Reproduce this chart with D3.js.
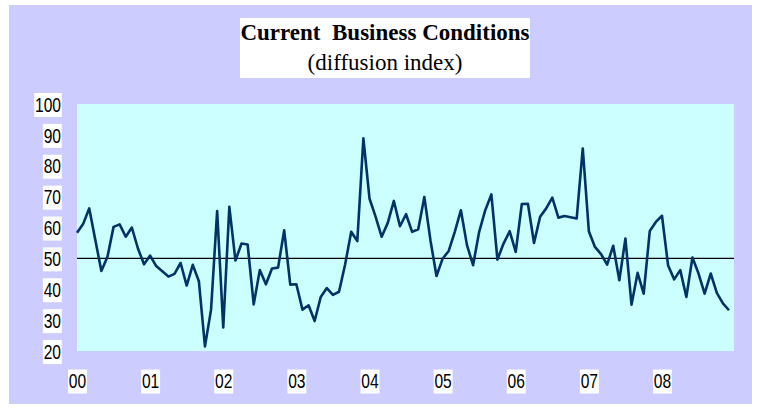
<!DOCTYPE html>
<html>
<head>
<meta charset="utf-8">
<script src="https://cdn.jsdelivr.net/npm/d3@7"></script>
<style>
  body { margin: 0; background: #fff; }
  svg { display: block; }
</style>
</head>
<body>
<svg id="chart" width="760" height="409"></svg>
<script>
// Monthly diffusion index, Jan 2000 .. Dec 2008
const startYear = 2000;
const values = [
  58.3, 61.1, 66.2, 56.0, 45.9, 50.5, 60.2, 61.0, 57.0, 60.0, 53.2, 48.1,
  50.9, 47.5, 45.8, 44.1, 45.0, 48.5, 41.2, 47.9, 42.6, 21.5, 33.4, 65.3,
  27.6, 66.7, 49.3, 54.8, 54.5, 35.1, 46.2, 41.6, 46.7, 47.0, 59.1, 41.5,
  41.6, 33.4, 34.8, 29.7, 37.5, 40.4, 38.2, 39.2, 48.0, 58.6, 55.6, 88.9,
  69.4, 63.5, 57.0, 61.5, 68.6, 60.4, 64.3, 58.6, 59.4, 69.9, 55.9, 44.3,
  49.9, 52.4, 58.6, 65.6, 54.3, 47.8, 58.6, 65.6, 70.7, 49.6, 54.8, 58.8,
  52.1, 67.6, 67.7, 55.0, 63.5, 66.2, 69.7, 63.2, 63.7, 63.3, 62.9, 85.6,
  58.8, 53.7, 51.4, 48.0, 54.1, 42.9, 56.4, 35.0, 45.3, 38.6, 58.9, 61.8,
  63.8, 47.8, 43.2, 46.2, 37.5, 50.3, 45.1, 38.6, 45.1, 38.8, 35.4, 33.2
];
const yearLabels = ['00', '01', '02', '03', '04', '05', '06', '07', '08'];
const yTicks = [20, 30, 40, 50, 60, 70, 80, 90, 100];
const refLine = 50;

const plot = { left: 77, top: 104, right: 734, bottom: 351 };
const squeeze = 0.78; // axis digits look horizontally condensed

const svg = d3.select('#chart');

// outer lavender panel
svg.append('rect')
  .attr('x', 9).attr('y', 5)
  .attr('width', 743).attr('height', 399)
  .attr('fill', '#ccccff');

// plot area
svg.append('rect')
  .attr('x', plot.left).attr('y', plot.top)
  .attr('width', plot.right - plot.left).attr('height', plot.bottom - plot.top)
  .attr('fill', '#ccffff');

const x = d3.scaleLinear().domain([0, values.length - 1]).range([plot.left, 729]);
const y = d3.scaleLinear().domain([20, 100]).range([plot.bottom, plot.top]);

// title box
svg.append('rect')
  .attr('x', 240).attr('y', 18)
  .attr('width', 290).attr('height', 60)
  .attr('fill', '#fff');

svg.append('text')
  .attr('x', 385).attr('y', 40)
  .attr('text-anchor', 'middle')
  .style('font-family', '"Liberation Serif", "Times New Roman", serif')
  .style('font-size', '23px')
  .style('font-weight', 'bold')
  .style('white-space', 'pre')
  .text('Current  Business Conditions');

svg.append('text')
  .attr('x', 385).attr('y', 70)
  .attr('text-anchor', 'middle')
  .style('font-family', '"Liberation Serif", "Times New Roman", serif')
  .style('font-size', '23px')
  .text('(diffusion index)');

// reference line at 50
svg.append('line')
  .attr('x1', plot.left).attr('x2', plot.right)
  .attr('y1', y(refLine)).attr('y2', y(refLine))
  .attr('stroke', '#000')
  .attr('stroke-width', 1.2);

// the series
const line = d3.line().x((d, i) => x(i)).y(d => y(d));
svg.append('path')
  .datum(values)
  .attr('d', line)
  .attr('fill', 'none')
  .attr('stroke', '#003366')
  .attr('stroke-width', 2.6)
  .attr('stroke-linejoin', 'round');

// give every tick label a white box and the narrow look
const styleTicks = (g) => {
  g.select('.domain').remove();
  g.selectAll('.tick line').remove();
  g.selectAll('.tick text')
    .attr('fill', '#000')
    .style('font-family', '"Liberation Sans", Arial, sans-serif')
    .style('font-size', '20px');
  g.selectAll('.tick').each(function () {
    const t = d3.select(this).select('text');
    const bb = t.node().getBBox();
    d3.select(this).insert('rect', 'text')
      .attr('x', bb.x - 1)
      .attr('y', bb.y + bb.height / 2 - 12)
      .attr('width', bb.width + 2)
      .attr('height', 24)
      .attr('fill', '#fff')
      .attr('transform', t.attr('transform'));
  });
};

// y axis
const yAxis = svg.append('g')
  .attr('transform', `translate(${plot.left},0)`)
  .call(d3.axisLeft(y).tickValues(yTicks).tickSize(0).tickFormat(d3.format('d')));
yAxis.selectAll('.tick text')
  .attr('x', -16 / squeeze)
  .attr('dy', '0.36em')
  .attr('transform', `scale(${squeeze},1)`);
styleTicks(yAxis);

// x axis: one label per January
const xAxis = svg.append('g')
  .attr('transform', `translate(0,${plot.bottom})`)
  .call(d3.axisBottom(x)
    .tickValues(yearLabels.map((d, i) => i * 12))
    .tickSize(0)
    .tickFormat((d, i) => yearLabels[i]));
xAxis.selectAll('.tick text')
  .attr('y', 23)
  .attr('dy', '0.71em')
  .attr('transform', `scale(${squeeze},1)`);
styleTicks(xAxis);
</script>
</body>
</html>
